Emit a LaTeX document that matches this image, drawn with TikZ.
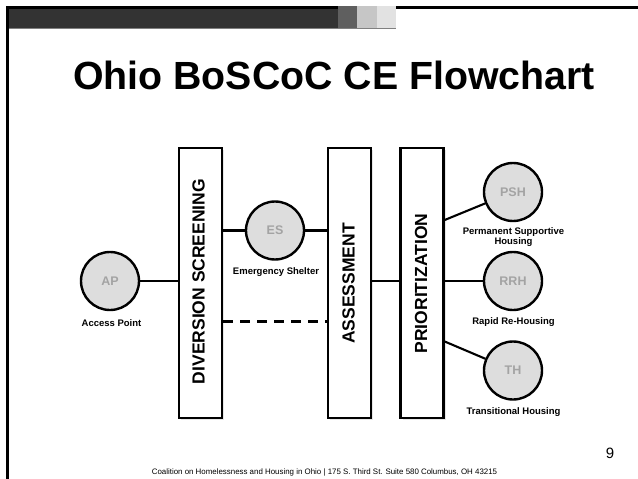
\documentclass[tikz,border=0pt]{standalone}
\usepackage{fontspec}
\setmainfont{Liberation Sans}
\usetikzlibrary{shadows,calc}

\definecolor{bardark}{HTML}{333333}
\definecolor{barmid}{HTML}{5F5F5F}
\definecolor{barlight}{HTML}{C6C6C6}
\definecolor{barpale}{HTML}{E2E2E2}
\definecolor{dotfill}{HTML}{DDDDDD}
\definecolor{dottext}{HTML}{A3A3A3}

\tikzset{
  stage/.style={draw, line width=2.4pt, fill=white, minimum width=43pt, minimum height=270pt,
    inner sep=0pt, drop shadow={shadow xshift=2pt, shadow yshift=-2pt, opacity=.2}},
  stagetext/.style={rotate=90, inner sep=0pt, font=\bfseries\fontsize{17.5}{17.5}\selectfont},
  program/.style={circle, draw, line width=2.4pt, fill=dotfill, minimum size=58pt, inner sep=0pt,
    text=dottext, font=\bfseries\fontsize{12.5}{12.5}\selectfont},
  caption/.style={align=center, inner sep=0pt, font=\bfseries\fontsize{9.5}{10}\selectfont},
  link/.style={line width=2.1pt},
}

\begin{document}
\begin{tikzpicture}[x=1pt,y=-1pt]
\useasboundingbox (0,0) rectangle (638,479);

% slide frame
\fill[black] (6,6) rectangle (638,9);
\fill[black] (6,6) rectangle (8.5,479);
\fill[bardark] (8.5,9) rectangle (338,28);
\fill[barmid] (338,6) rectangle (357,28);
\fill[barlight] (357,6) rectangle (377,28);
\fill[barpale] (377,6) rectangle (396,28);
\fill[gray] (8.5,28) rectangle (396,29);

\node[anchor=base, font=\bfseries\fontsize{39.3}{40}\selectfont] (title) at (334,89) {Ohio BoSCoC CE Flowchart};

% stages
\node[stage] (div) at (200.5,283) {};
\node[stage] (asmt) at (349.5,283) {};
\node[stage] (prio) at (422,283) {};
\node[stagetext] (divtext) at (198.5,281.5) {DIVERSION SCREENING};
\node[stagetext] (asmttext) at (348.5,283.5) {ASSESSMENT};
\node[stagetext] (priotext) at (421,283.5) {PRIORITIZATION};

% programs
\node[program] (ap) at (110,281) {AP};
\node[program] (es) at (275,230.5) {ES};
\node[program] (psh) at (513,192) {PSH};
\node[program] (rrh) at (513,281) {RRH};
\node[program] (th) at (513,370.5) {TH};

\node[caption] (apcap) at (111.5,323) {Access Point};
\node[caption] (escap) at (276,272.5) {Emergency Shelter};
\node[caption] (pshcap) at (513.5,237.5) {Permanent Supportive\\Housing};
\node[caption] (rrhcap) at (513.5,322.5) {Rapid Re-Housing};
\node[caption] (thcap) at (513.5,412.5) {Transitional Housing};

% connectors
\draw[link] (ap) -- (ap -| div.west);
\draw[link] (es -| div.east) -- (es);
\draw[link] (es) -- (es -| asmt.west);
\draw[link, dash pattern=on 10pt off 7pt] ($(div.east)+(0,38.5)$) -- ($(asmt.west)+(0,38.5)$);
\draw[link] (rrh -| asmt.east) -- (rrh -| prio.west);
\draw[link] ($(prio.east)+(0,-63)$) -- (psh);
\draw[link] (rrh -| prio.east) -- (rrh);
\draw[link] ($(prio.east)+(0,58.5)$) -- (th);

% footer
\node[anchor=base, font=\fontsize{7.9}{8}\selectfont] (footer) at (324.5,474) {Coalition on Homelessness and Housing in Ohio | 175 S. Third St. Suite 580 Columbus, OH 43215};
\node[anchor=base, font=\fontsize{15}{15}\selectfont] (pageno) at (610,458) {9};
\end{tikzpicture}
\end{document}
